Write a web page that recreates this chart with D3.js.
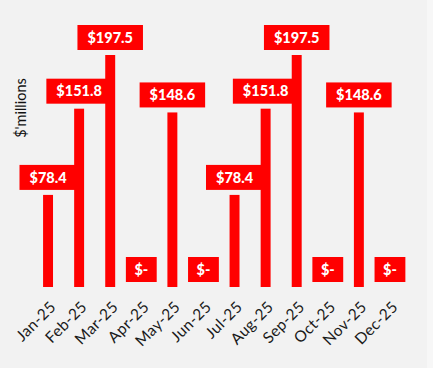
<!DOCTYPE html>
<html><head><meta charset="utf-8">
<script src="https://cdn.jsdelivr.net/npm/d3@7"></script>
<style>
html,body{margin:0;padding:0;background:#f7f7f7;}
svg{display:block;}
</style></head><body>
<svg id="c" width="433" height="368"></svg>
<script>
const months = ["Jan-25","Feb-25","Mar-25","Apr-25","May-25","Jun-25","Jul-25","Aug-25","Sep-25","Oct-25","Nov-25","Dec-25"];
const values = [78.4,151.8,197.5,0,148.6,0,78.4,151.8,197.5,0,148.6,0];
const labels = ["$78.4","$151.8","$197.5","$-","$148.6","$-","$78.4","$151.8","$197.5","$-","$148.6","$-"];

const svg = d3.select("#c");
svg.append("rect").attr("x",0).attr("y",0).attr("width",427).attr("height",368).attr("fill","#f2f2f2");

const baseline = 287;
const x = d3.scaleBand().domain(months).range([32.5,405.5]).paddingInner(0.68).paddingOuter(0.34);
const y = d3.scaleLinear().domain([0,197.5]).range([baseline,55]);

const g = svg.append("g");
const lab = g.selectAll("g.lab").data(months).enter().append("g").attr("class","lab");
lab.each(function(m,i){
  const sel = d3.select(this);
  const cx = x(m)+x.bandwidth()/2;
  const boxBottom = y(values[i]) - 5;
  const t = sel.append("text").text(labels[i])
    .attr("x",cx).attr("text-anchor","middle")
    .attr("font-family","Lato").attr("font-weight","900").attr("font-size",14.5)
    .attr("fill","#ffffff");
  const w = t.node().getComputedTextLength();
  const padX = values[i]===0 ? 8.5 : 10;
  const h = 25;
  sel.insert("rect","text").attr("x",cx-w/2-padX).attr("y",boxBottom-h)
    .attr("width",w+2*padX).attr("height",h).attr("fill","#ff0000");
  t.attr("y",boxBottom-h/2).attr("dy","0.36em");
});

g.selectAll("rect.bar").data(months).enter().append("rect").attr("class","bar")
  .attr("x",d=>x(d)).attr("width",x.bandwidth())
  .attr("y",(d,i)=>y(values[i])).attr("height",(d,i)=>baseline-y(values[i]))
  .attr("fill","#ff0000");

const ax = svg.append("g").attr("transform",`translate(0,${baseline})`)
  .call(d3.axisBottom(x).tickSize(0).tickPadding(0));
ax.select(".domain").remove();
ax.selectAll("text")
  .attr("font-family","Lato").attr("font-size",15.5).attr("letter-spacing","0.4px").attr("fill","#1a1a1a")
  .attr("text-anchor","end")
  .attr("transform","translate(5,17) rotate(-45)")
  .attr("dy","0.35em").attr("y",0);

svg.append("text").text("$'millions")
  .attr("transform","translate(26,108) rotate(-90)")
  .attr("text-anchor","middle")
  .attr("font-family","Lato").attr("font-size",14.5).attr("fill","#111");
</script>
</body></html>
